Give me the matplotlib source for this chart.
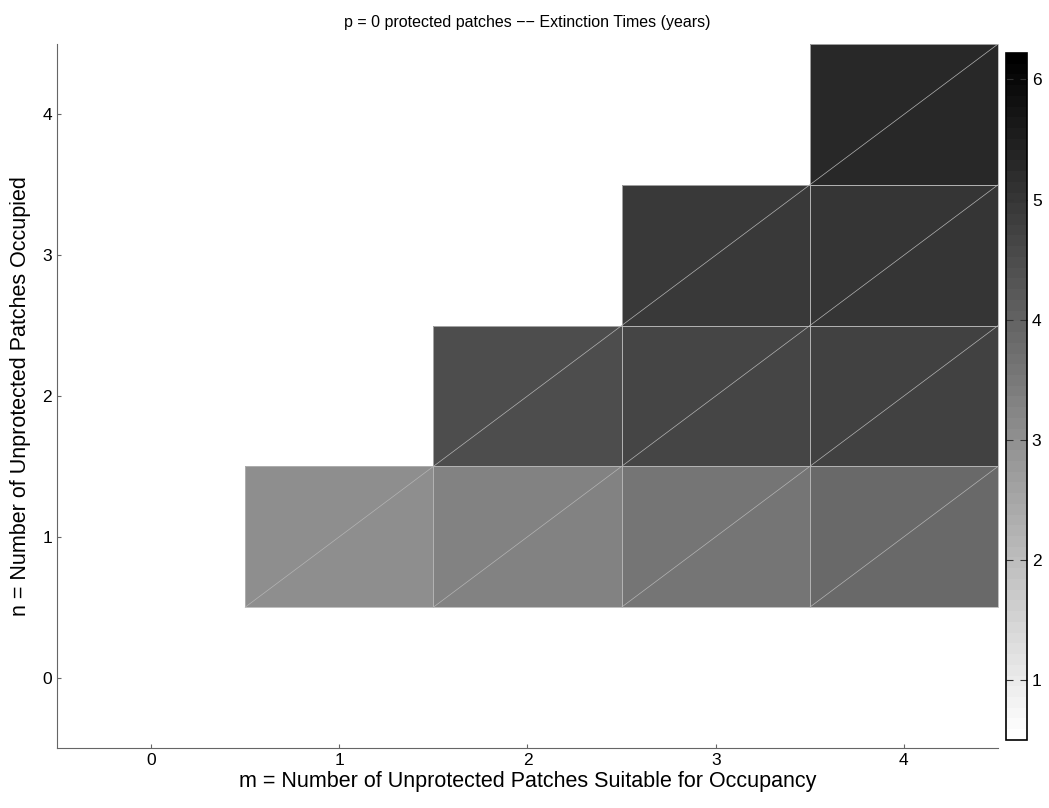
import matplotlib.pyplot as plt
import numpy as np

# extinction times (years), rows n = 0..4, cols m = 0..4 (nan = not possible)
m_vals = [0, 1, 2, 3, 4]
n_vals = [0, 1, 2, 3, 4]
ext_n1 = [np.nan, 3.05, 3.35, 3.55, 3.85]
ext_n2 = [np.nan, np.nan, 4.45, 4.62, 4.72]
ext_n3 = [np.nan, np.nan, np.nan, 4.92, 5.02]
ext_n4 = [np.nan, np.nan, np.nan, np.nan, 5.28]
ext_n0 = [np.nan] * 5

Z = np.ma.masked_invalid(np.array([ext_n0, ext_n1, ext_n2, ext_n3, ext_n4]))
vmin, vmax = 0.5, 6.22

plt.rcParams['font.family'] = ['Liberation Sans', 'DejaVu Sans']

f = plt.figure(figsize=(10.49, 8.08), dpi=100)
ax = f.add_axes([0.0543, 0.0743, 0.8971, 0.8712])
cax = f.add_axes([0.959, 0.0842, 0.020, 0.8502])

cmap = plt.get_cmap('gray_r', 64)
xe = np.arange(len(m_vals) + 1) - 0.5
ye = np.arange(len(n_vals) + 1) - 0.5
mesh = ax.pcolormesh(xe, ye, Z, cmap=cmap, vmin=vmin, vmax=vmax, edgecolors='none')

# light seams round each filled cell and along its diagonal
seam = '#b4b4b4'
for i, n in enumerate(n_vals):
    for j, m in enumerate(m_vals):
        if not np.ma.is_masked(Z[i, j]):
            ax.add_patch(plt.Rectangle((m - 0.5, n - 0.5), 1, 1, fill=False,
                                       edgecolor=seam, lw=0.6, clip_on=False))
            ax.plot([m - 0.5, m + 0.5], [n - 0.5, n + 0.5], color=seam, lw=0.5)

ax.set_xlim(-0.5, 4.5)
ax.set_ylim(-0.5, 4.5)
ax.set_xticks(m_vals)
ax.set_yticks(n_vals)
ax.tick_params(direction='in', length=3, labelsize=12.5, color='#666666')
ax.spines['top'].set_visible(False)
ax.spines['right'].set_visible(False)
ax.spines['left'].set_color('#666666')
ax.spines['bottom'].set_color('#666666')
ax.set_xlabel('m = Number of Unprotected Patches Suitable for Occupancy', fontsize=15.5, labelpad=2)
ax.set_ylabel('n = Number of Unprotected Patches Occupied', fontsize=15.5, labelpad=8)
ax.set_title('p = 0 protected patches \u2212\u2212 Extinction Times (years)', fontsize=11.5, pad=12)

cb = f.colorbar(mesh, cax=cax)
cb.set_ticks([1, 2, 3, 4, 5, 6])
cb.ax.tick_params(direction='in', length=5, left=True, right=True, labelsize=12.5, color='#333333')
cb.outline.set_edgecolor('black')
cb.outline.set_linewidth(1.2)

f.savefig('out.png', dpi=100)
